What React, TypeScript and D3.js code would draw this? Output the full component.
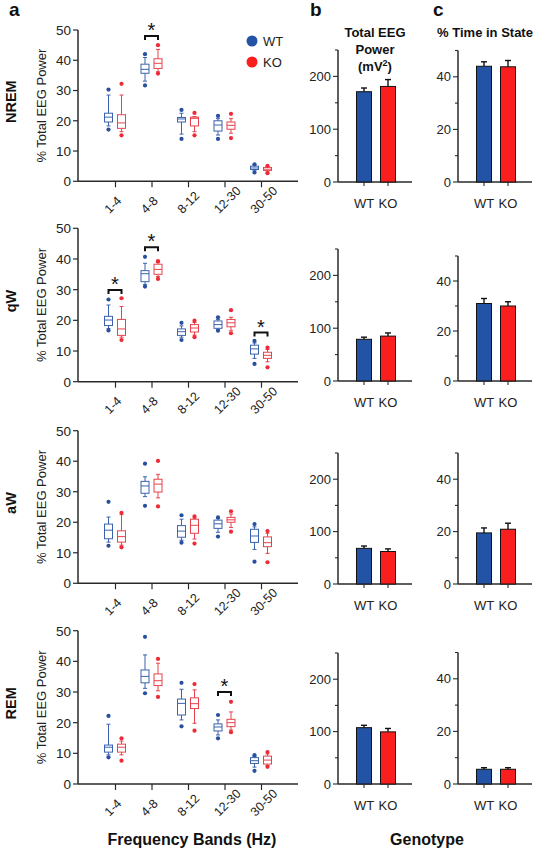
import React from "react";
import * as d3 from "d3";

// ---------- data ----------
const bands = ["1-4", "4-8", "8-12", "12-30", "30-50"];
const genotypes = ["WT", "KO"];
const states = ["NREM", "qW", "aW", "REM"];

// each entry: [dotLow, whiskerLow, q1, median, q3, whiskerHigh, dotHigh]
const nremWT = [
  [17.1, 18.3, 19.6, 21.2, 22.5, 28.5, 30.3],
  [31.7, 33.1, 35.7, 37.0, 38.7, 40.9, 42.0],
  [14.0, 15.6, 19.6, 20.6, 21.1, 22.5, 23.6],
  [14.0, 15.3, 16.6, 18.6, 20.0, 20.7, 21.6],
  [2.9, 3.5, 3.9, 4.4, 5.0, 5.4, 5.6],
];
const nremKO = [
  [15.2, 16.4, 17.5, 19.3, 22.0, 28.5, 32.2],
  [35.6, 36.2, 37.3, 39.0, 40.5, 43.6, 45.0],
  [15.2, 16.4, 18.3, 20.8, 21.2, 21.4, 22.6],
  [14.3, 15.9, 17.2, 18.5, 19.6, 20.7, 22.3],
  [2.7, 3.1, 3.6, 4.0, 4.6, 4.9, 5.1],
];
const qwWT = [
  [16.7, 17.3, 18.3, 20.1, 21.3, 25.0, 26.8],
  [31.0, 31.7, 32.6, 35.2, 36.2, 38.6, 40.7],
  [13.6, 14.5, 15.1, 16.3, 17.2, 18.2, 19.2],
  [16.6, 17.0, 17.4, 18.6, 19.8, 20.3, 21.0],
  [5.8, 7.6, 9.0, 10.7, 11.9, 12.6, 13.3],
];
const qwKO = [
  [13.6, 14.5, 15.1, 17.2, 20.3, 24.5, 27.2],
  [33.5, 34.3, 35.0, 36.6, 38.3, 38.8, 39.3],
  [14.5, 15.2, 16.2, 17.5, 18.6, 19.3, 19.9],
  [15.8, 16.6, 17.9, 19.2, 20.3, 21.0, 23.3],
  [4.7, 6.5, 7.6, 8.6, 9.6, 10.5, 11.1],
];
const awWT = [
  [12.3, 13.5, 14.6, 17.4, 19.4, 21.7, 26.7],
  [25.4, 28.4, 29.5, 31.9, 33.4, 34.9, 39.2],
  [13.3, 14.1, 15.1, 17.1, 18.9, 21.0, 22.3],
  [15.3, 16.7, 18.0, 19.5, 20.7, 21.2, 21.6],
  [7.1, 11.1, 13.4, 15.5, 17.7, 18.5, 19.4],
];
const awKO = [
  [11.8, 12.5, 13.5, 15.3, 17.2, 22.5, 23.1],
  [25.2, 28.0, 29.9, 32.5, 34.1, 35.7, 40.1],
  [13.0, 14.5, 16.4, 19.0, 21.0, 21.3, 21.9],
  [16.9, 18.3, 20.0, 20.8, 21.6, 22.7, 23.6],
  [6.9, 9.8, 12.0, 13.3, 15.2, 16.4, 17.1],
];
const remWT = [
  [8.7, 9.5, 10.4, 12.0, 12.7, 19.5, 22.2],
  [29.6, 31.2, 33.0, 35.1, 37.2, 42.1, 48.0],
  [18.8, 20.9, 22.5, 26.3, 27.7, 30.9, 33.0],
  [14.9, 16.0, 17.3, 18.6, 19.6, 20.9, 22.5],
  [4.3, 5.5, 6.7, 7.6, 8.6, 9.0, 9.4],
];
const remKO = [
  [7.6, 9.5, 10.4, 12.0, 13.0, 14.0, 14.9],
  [28.4, 30.4, 32.1, 33.7, 35.9, 39.4, 40.8],
  [17.4, 19.8, 24.6, 26.2, 28.1, 30.7, 32.6],
  [16.9, 17.6, 18.7, 20.0, 21.1, 23.5, 26.8],
  [5.6, 6.0, 6.5, 7.8, 9.1, 9.8, 10.4],
];
const boxWT = [nremWT, qwWT, awWT, remWT];
const boxKO = [nremKO, qwKO, awKO, remKO];

// significance brackets: [band, bracket level (%)]
const sigNREM: [string, number][] = [["4-8", 48]];
const sigQW: [string, number][] = [["1-4", 29.9], ["4-8", 43.8], ["30-50", 16]];
const sigAW: [string, number][] = [];
const sigREM: [string, number][] = [["12-30", 30]];
const sigs = [sigNREM, sigQW, sigAW, sigREM];

// panel b: total EEG power (mV^2), panel c: % time in state
const powerWT = [171, 79, 68, 107.5];
const powerKO = [181, 85, 62, 99.5];
const powerErrWT = [7, 4, 4.5, 4.5];
const powerErrKO = [13, 6, 5, 6.5];
const timeWT = [44, 31, 19.5, 5.6];
const timeKO = [43.8, 30, 20.9, 5.6];
const timeErrWT = [1.7, 2, 1.9, 0.6];
const timeErrKO = [2.4, 1.7, 2.3, 0.6];

const aTicks = [0, 10, 20, 30, 40, 50];
const bTicks = [0, 50, 100, 150, 200, 250];
const bLabels = [0, 100, 200];
const cTicks = [0, 10, 20, 30, 40, 50];
const cLabels = [0, 20, 40];

// ---------- layout / style ----------
const FONT = "'Liberation Sans', Arial, Helvetica, sans-serif";
const AX = "#2a2a2a";
const WT_BAR = "#2353a4";
const KO_BAR = "#fb1e1e";
const WT_BOX = "#3a62ad";
const KO_BOX = "#e8424c";
const WT_DOT = "#28509f";
const KO_DOT = "#ee2a36";

const rowTop = [30, 228.3, 430.7, 630.7];
const rowBottom = [181.3, 381.7, 583.3, 784];
const bBase = [182, 381, 584, 784];
const bHeight = [132, 132, 131, 131];
const cHeight = [131.5, 125, 131, 131.5];
const aLeft = 78;
const aRight = 298;
const bLeft = 338;
const cLeft = 458;
const barW = 15;

function BoxRow({ r }: { r: number }) {
  const y = d3.scaleLinear().domain([0, 50]).range([rowBottom[r], rowTop[r]]);
  const x = d3.scalePoint().domain(bands).range([aLeft + 1, aRight]).padding(1);
  const off: Record<string, number> = { WT: -7, KO: 6 };
  const mid = (rowTop[r] + rowBottom[r]) / 2;
  return (
    <g>
      {/* axes */}
      <line x1={aLeft} x2={aLeft} y1={y(50)} y2={y(0)} stroke={AX} strokeWidth={1.5} />
      <line x1={aLeft} x2={aRight} y1={y(0)} y2={y(0)} stroke={AX} strokeWidth={1.5} />
      {aTicks.map((t) => (
        <g key={t}>
          <line x1={aLeft - 5} x2={aLeft} y1={y(t)} y2={y(t)} stroke={AX} strokeWidth={1.2} />
          <text x={aLeft - 7} y={y(t)} dy="0.36em" textAnchor="end" fontSize={13.5} fill="#222">
            {t}
          </text>
        </g>
      ))}
      {bands.map((b) => (
        <g key={b}>
          <line x1={x(b)!} x2={x(b)!} y1={y(0)} y2={y(0) + 6} stroke={AX} strokeWidth={1.2} />
          <text
            transform={`translate(${x(b)! - 6},${y(0) + 33}) rotate(-45)`}
            fontSize={12.5}
            fill="#222"
          >
            {b}
          </text>
        </g>
      ))}
      <text
        transform={`translate(46,${mid}) rotate(-90)`}
        textAnchor="middle"
        fontSize={13}
        fill="#222"
      >
        % Total EEG Power
      </text>
      <text
        transform={`translate(16,${mid - 4}) rotate(-90)`}
        textAnchor="middle"
        fontSize={14.5}
        fontWeight="bold"
        fill="#111"
      >
        {states[r]}
      </text>
      {/* boxes */}
      {genotypes.map((g) => {
        const data = g === "WT" ? boxWT[r] : boxKO[r];
        const col = g === "WT" ? WT_BOX : KO_BOX;
        const dcol = g === "WT" ? WT_DOT : KO_DOT;
        return bands.map((b, i) => {
          const [dl, wl, q1, med, q3, wh, dh] = data[i];
          const cx = x(b)! + off[g];
          return (
            <g key={g + b}>
              <line x1={cx} x2={cx} y1={y(q3)} y2={y(wh)} stroke={col} strokeWidth={1} />
              <line x1={cx} x2={cx} y1={y(q1)} y2={y(wl)} stroke={col} strokeWidth={1} />
              <line x1={cx - 2} x2={cx + 2} y1={y(wh)} y2={y(wh)} stroke={col} strokeWidth={1} />
              <line x1={cx - 2} x2={cx + 2} y1={y(wl)} y2={y(wl)} stroke={col} strokeWidth={1} />
              <rect
                x={cx - 4}
                width={8}
                y={y(q3)}
                height={y(q1) - y(q3)}
                fill="white"
                stroke={col}
                strokeWidth={1}
              />
              <line x1={cx - 4} x2={cx + 4} y1={y(med)} y2={y(med)} stroke={col} strokeWidth={1} />
              <circle cx={cx} cy={y(dh)} r={2.1} fill={dcol} />
              <circle cx={cx} cy={y(dl)} r={2.1} fill={dcol} />
            </g>
          );
        });
      })}
      {/* significance */}
      {sigs[r].map(([b, lvl]) => {
        const x1 = x(b)! + off.WT;
        const x2 = x(b)! + off.KO;
        const yy = y(lvl);
        return (
          <g key={b}>
            <path
              d={`M${x1},${yy + 4}V${yy}H${x2}V${yy + 4}`}
              fill="none"
              stroke="#111"
              strokeWidth={2}
            />
            <text x={(x1 + x2) / 2} y={yy + 1} textAnchor="middle" fontSize={20} fill="#111">
              *
            </text>
          </g>
        );
      })}
    </g>
  );
}

function BarPanel({
  r,
  left,
  height,
  max,
  ticks,
  labels,
  wt,
  ko,
  ewt,
  eko,
}: {
  r: number;
  left: number;
  height: number;
  max: number;
  ticks: number[];
  labels: number[];
  wt: number;
  ko: number;
  ewt: number;
  eko: number;
}) {
  const base = bBase[r];
  const y = d3.scaleLinear().domain([0, max]).range([base, base - height]);
  const x = d3.scalePoint().domain(genotypes).range([left + 26, left + 50]);
  const vals: Record<string, [number, number, string]> = {
    WT: [wt, ewt, WT_BAR],
    KO: [ko, eko, KO_BAR],
  };
  return (
    <g>
      <line x1={left} x2={left} y1={y(max)} y2={y(0)} stroke={AX} strokeWidth={1.5} />
      <line x1={left} x2={left + 74} y1={y(0)} y2={y(0)} stroke={AX} strokeWidth={1.5} />
      {ticks.map((t) => {
        const major = labels.includes(t);
        return (
          <g key={t}>
            <line
              x1={left - (major ? 5 : 3)}
              x2={left}
              y1={y(t)}
              y2={y(t)}
              stroke={AX}
              strokeWidth={1.1}
            />
            {major && (
              <text x={left - 7} y={y(t)} dy="0.36em" textAnchor="end" fontSize={13} fill="#222">
                {t}
              </text>
            )}
          </g>
        );
      })}
      {genotypes.map((g) => {
        const [v, e, c] = vals[g];
        const cx = x(g)!;
        return (
          <g key={g}>
            <line x1={cx} x2={cx} y1={y(v)} y2={y(v + e)} stroke="#111" strokeWidth={1.4} />
            <line x1={cx - 3} x2={cx + 3} y1={y(v + e)} y2={y(v + e)} stroke="#111" strokeWidth={1.4} />
            <rect
              x={cx - barW / 2}
              width={barW}
              y={y(v)}
              height={y(0) - y(v)}
              fill={c}
              stroke="#111"
              strokeWidth={1}
            />
            <line x1={cx} x2={cx} y1={y(0)} y2={y(0) + 4} stroke={AX} strokeWidth={1.1} />
            <text x={cx} y={y(0) + 26} textAnchor="middle" fontSize={13} fill="#222">
              {g}
            </text>
          </g>
        );
      })}
    </g>
  );
}

export default function App() {
  return (
    <svg
      width={535}
      height={853}
      viewBox="0 0 535 853"
      style={{ position: "absolute", left: 0, top: 0, background: "white" }}
      fontFamily={FONT}
    >
      <rect width={535} height={853} fill="white" />
      {/* panel letters */}
      <text x={9} y={16} fontSize={19} fontWeight="bold" fill="#111">a</text>
      <text x={310} y={16} fontSize={19} fontWeight="bold" fill="#111">b</text>
      <text x={433} y={16} fontSize={19} fontWeight="bold" fill="#111">c</text>

      {/* panel titles */}
      <text textAnchor="middle" fontSize={13} fontWeight="bold" fill="#111">
        <tspan x={375} y={37}>Total EEG</tspan>
        <tspan x={375} y={54}>Power</tspan>
        <tspan x={375} y={71}>
          (mV<tspan fontSize={9} dy={-5}>2</tspan>
          <tspan dy={5}>)</tspan>
        </tspan>
      </text>
      <text x={485} y={37} textAnchor="middle" fontSize={13} fontWeight="bold" fill="#111">
        % Time in State
      </text>

      {/* legend */}
      <circle cx={252} cy={41} r={5.5} fill={WT_BAR} />
      <text x={263} y={41} dy="0.36em" fontSize={13} fill="#222">WT</text>
      <circle cx={252} cy={62} r={5.5} fill={KO_BAR} />
      <text x={263} y={62} dy="0.36em" fontSize={13} fill="#222">KO</text>

      {states.map((s, r) => (
        <g key={s}>
          <BoxRow r={r} />
          <BarPanel
            r={r}
            left={bLeft}
            height={bHeight[r]}
            max={250}
            ticks={bTicks}
            labels={bLabels}
            wt={powerWT[r]}
            ko={powerKO[r]}
            ewt={powerErrWT[r]}
            eko={powerErrKO[r]}
          />
          <BarPanel
            r={r}
            left={cLeft}
            height={cHeight[r]}
            max={50}
            ticks={cTicks}
            labels={cLabels}
            wt={timeWT[r]}
            ko={timeKO[r]}
            ewt={timeErrWT[r]}
            eko={timeErrKO[r]}
          />
        </g>
      ))}

      <text x={192} y={845} textAnchor="middle" fontSize={16} fontWeight="bold" fill="#111">
        Frequency Bands (Hz)
      </text>
      <text x={427} y={845} textAnchor="middle" fontSize={16} fontWeight="bold" fill="#111">
        Genotype
      </text>
    </svg>
  );
}
